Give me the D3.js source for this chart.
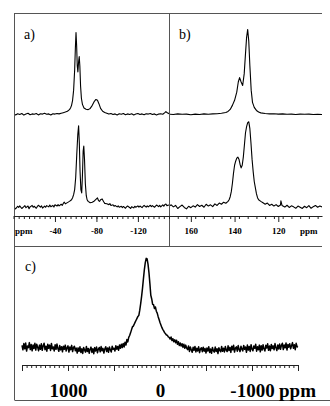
<!DOCTYPE html>
<html>
<head>
<meta charset="utf-8">
<script src="https://cdn.jsdelivr.net/npm/d3@7"></script>
<style>
  body { margin: 0; background: #fff; }
  svg { display: block; }
  text { font-family: "Liberation Serif", "Times New Roman", Times, serif; }
  .domain, .tick line { stroke: #222; }
</style>
</head>
<body>
<div class="container"></div>
<script>
// ---- data: [ppm, intensity] ----
var aTop = [[0,0.3],[-2,-0.2],[-4,0.4],[-6,0],[-8,0.5],[-10,-0.3],[-12,0.2],[-14,0.6],[-16,-0.1],[-18,0.3],
  [-20,0.1],[-22,0.5],[-24,-0.2],[-26,0.4],[-28,0.2],[-30,0.6],[-32,0.1],[-34,0.3],[-36,-0.2],[-38,0.4],
  [-40,0.2],[-42,0.5],[-44,0.3],[-46,0.6],[-48,0.9],[-50,1.2],[-52,1.6],[-54,2.4],[-55,3.2],[-56,4.5],
  [-57,7],[-58,12],[-59,22],[-59.7,33],[-60.3,40.4],[-60.9,34],[-61.5,24],[-62.1,21],[-62.8,26],[-63.4,28.6],
  [-64,24],[-64.7,14],[-65.5,8],[-66.5,5],[-68,3.2],[-70,2.6],[-72,2.4],[-74,3],[-76,4.5],[-78,6.5],
  [-79.5,7.4],[-81,7],[-82.5,5.2],[-84,3],[-86,1.6],[-88,1],[-90,0.6],[-92,0.2],[-94,0.5],[-96,0],
  [-98,0.3],[-100,-0.2],[-102,0.4],[-104,0.1],[-106,0.5],[-108,-0.1],[-110,0.3],[-112,0],[-114,0.4],[-116,-0.2],
  [-118,0.2],[-120,0.5],[-122,0],[-124,0.3],[-126,-0.1],[-128,0.4],[-130,0.2],[-132,0.5],[-134,0],[-136,0.3],
  [-138,-0.2],[-140,0.2],[-142,0.4],[-144,0.1],[-146,0.9],[-147,1.4],[-148,1],[-150,0.4]];

var aBottom = [[0,0.5],[-2,-0.5],[-4,0.8],[-5,0.2],[-6,1],[-8,-0.3],[-10,0.6],[-11,1.1],[-12,0.1],[-14,0.9],
  [-15,-0.4],[-16,0.5],[-18,1.2],[-19,0.3],[-20,0.8],[-22,-0.2],[-23,0.7],[-24,1.3],[-26,0.4],[-27,1],
  [-28,-0.1],[-30,0.9],[-31,0.3],[-32,1.1],[-34,0.5],[-35,1.4],[-36,0.6],[-38,1.2],[-39,0.4],[-40,1.5],
  [-42,0.9],[-43,1.6],[-44,1],[-46,1.8],[-47,1.2],[-48,2.2],[-49,2.8],[-50,2],[-52,2.6],[-54,3.2],
  [-56,4],[-57,5],[-58,6.5],[-59,9],[-60,15],[-61,26],[-62,36],[-62.8,40.4],[-63.5,32],[-64.2,18],
  [-65,9],[-65.8,7.4],[-66.5,16],[-67.2,28],[-67.8,30.5],[-68.5,24],[-69.3,12],[-70.2,6],[-71,4],[-72,3.2],
  [-74,2.5],[-76,2.8],[-78,3.4],[-80,4.4],[-81,4.9],[-82,3.6],[-83,3.2],[-84,4],[-85.5,4.4],[-87,3],
  [-88,2.2],[-90,2],[-92,1.6],[-93,2.1],[-94,1.2],[-96,1.5],[-97,0.8],[-98,1.2],[-100,0.5],[-101,1],
  [-102,0.3],[-104,0.8],[-105,0.1],[-106,0.7],[-108,-0.2],[-109,0.5],[-110,0.9],[-112,0.2],[-113,-0.3],[-114,0.6],
  [-116,0],[-117,0.8],[-118,0.3],[-120,1],[-121,0.4],[-122,0.9],[-124,0.1],[-125,0.7],[-126,1.2],[-128,0.4],
  [-129,1],[-130,0.5],[-132,1.3],[-133,0.6],[-134,1.1],[-136,0.3],[-137,0.9],[-138,1.4],[-140,0.6],[-141,1.2],
  [-142,0.5],[-144,1.5],[-145,0.8],[-146,1.6],[-147,1.9],[-148,1.1],[-150,1.4]];

var bTop = [[170,0.2],[168,0],[166,0.3],[164,0.1],[162,0.2],[160,-0.1],[158,0.2],[156,0],[154,0.3],[152,0.1],
  [150,0.3],[148,0.4],[146,0.6],[144,1],[143,1.5],[142,2.5],[141,4.5],[140,7],[139,11],[138.3,16],
  [137.7,18.2],[137,16],[136.3,14.3],[135.6,20],[135,30],[134.5,38],[134,41.9],[133.5,36],[133,24],[132.4,12],
  [131.8,6],[131,3.5],[130,2],[129,1.2],[128,0.8],[126,0.5],[124,0.3],[122,0.4],[120,0.2],[118,0.3],
  [116,0.1],[114,0.2],[112,0],[110,0.2],[108,0.1],[106,0.2],[104,0],[102,0.1],[100,0]];

var bBottom = [[170,0.8],[169,1.5],[168,0.5],[167,1.2],[166,-0.3],[165,0.6],[164,1.4],[163,0.2],[162,-0.5],[161,0.8],
  [160,0.1],[159,1],[158,0.4],[157,1.6],[156,0.7],[155,1.3],[154,0.3],[153,1.8],[152,0.9],[151,1.5],
  [150,0.6],[149,2],[148,1.2],[147,2.4],[146,1.8],[145,2.8],[144,2.3],[143,3.2],[142.5,4],[142,5.5],
  [141.5,8],[141,12],[140.5,17],[140,21],[139.5,23],[139,24.5],[138.5,25],[138,24],[137.5,21.5],[137,19.7],
  [136.5,21],[136,25],[135.5,31],[135,37],[134.5,40],[134,42],[133.5,42.4],[133,39],[132.5,32],[132,24],
  [131.5,18],[131,13],[130.5,10],[130,7],[129.5,5],[129,4],[128,3.2],[127,2.5],[126,1.8],[125,2.4],
  [124,1.2],[123,1.8],[122,0.9],[121,1.6],[120,0.7],[119,1.4],[118.8,3.5],[118.3,1.2],[117,0.4],[116,1.3],
  [115,0.2],[114,1],[113,0.5],[112,-0.2],[111,0.9],[110,0.3],[109,-0.3],[108,0.8],[107,0.1],[106,1.1],
  [105,-0.2],[104,0.6],[103,1.2],[102,0.3],[101,0.9],[100,0.5]];

// top trace is drawn shifted up by traceOffsets[0], bottom one by traceOffsets[1]
var traceOffsets = [50, 4];

// panel c: spectrum sampled every 10 ppm from 1500 down to -1500
var cPpmStart = 1500, cPpmStep = -10, cOffset = 12.6;
var cValues = [
  3.9,0.2,5.4,1.0,5.8,-0.9,3.4,2.0,6.2,0.4,4.6,-0.7,4.2,1.3,5.6,-0.1,4.9,2.4,-0.6,4.1,
  0.6,5.2,-0.3,3.6,5.7,0.3,3.2,-1.0,4.8,1.5,4.1,-0.4,5.5,1.0,2.6,-0.8,4.4,0.6,5.0,1.3,
  -1.1,3.7,0.1,2.8,-1.5,3.2,0.6,4.1,-0.9,1.9,3.5,-1.7,2.5,0.3,3.9,-1.3,2.1,3.1,-0.7,1.6,
  -2.6,1.8,-1.1,2.7,-2.1,1.0,-2.9,2.2,0.0,-1.8,3.0,-1.3,1.3,-2.7,0.6,2.4,-2.0,1.1,-3.1,2.0,
  -0.8,2.6,-2.3,0.7,2.1,-1.5,2.9,-0.7,1.4,-2.5,0.9,2.8,-1.3,1.7,-1.9,2.5,0.2,-1.7,3.1,0.6,
  1.5,-0.9,3.6,0.7,2.9,-0.2,4.3,1.5,4.8,2.0,5.5,2.6,6.6,4.2,8.8,6.8,10.6,12.2,14.4,16.9,
  19.4,20.1,21.7,23.4,25.0,26.6,28.2,29.1,33.5,39.0,45.0,52.0,60.0,67.5,73.5,77.0,76.5,72.0,65.0,56.0,
  46.0,42.9,38.4,38.0,34.8,36.2,32.6,31.0,28.0,25.6,23.1,21.0,19.0,17.4,16.1,14.6,13.6,12.6,12.4,11.0,
  10.6,9.2,10.9,7.9,9.5,7.0,8.6,6.1,8.2,4.8,7.0,3.7,5.9,3.4,5.3,2.2,4.8,1.4,4.1,1.6,
  0.3,3.4,-1.2,2.6,0.1,-1.9,2.3,-0.2,3.0,-1.6,1.4,-0.8,2.7,-2.2,0.9,1.9,-1.4,2.4,-1.0,1.2,
  -2.5,1.6,-0.9,2.8,-2.1,0.8,-2.8,2.2,-0.5,-1.8,2.5,-1.2,1.1,-3.0,1.8,-0.2,-1.5,3.0,-1.1,1.5,
  -1.6,2.9,0.0,-1.3,3.5,-0.5,2.2,-2.0,3.2,0.2,4.0,-1.7,1.7,2.6,-1.0,3.7,0.5,-1.4,3.1,0.8,
  -0.8,3.8,0.6,2.5,-1.9,4.2,-0.1,3.0,-1.2,4.5,0.7,-0.7,3.4,1.4,4.8,-1.0,2.7,0.2,4.1,-1.5,
  3.6,0.0,4.4,1.0,-0.9,4.0,1.7,5.2,-0.3,3.3,-0.6,4.7,1.2,3.5,0.2,5.4,2.0,-0.5,4.2,0.9,
  5.0,0.6,3.9,5.7,0.4,4.3,1.8,5.9,0.0,4.6,2.4,5.3,1.0,3.7,6.2,1.5,4.5,0.3,5.6,2.7,
  2.4];

var aTicks = [-40, -80, -120];
var bTicks = [160, 140, 120];
var cTicks = [1000, 0, -1000];
var panelLabels = ["a)", "b)", "c)"];

// ---- layout ----
const WIDTH = 330;
const HEIGHT = 406;
const FRAME_COLOR = "#555";
const SERIF = '"Liberation Serif", "Times New Roman", Times, serif';

var translate = function (x, y) {
  return "translate(" + x + "," + y + ")";
};

var svg = d3.select("body").append("svg")
  .attr("width", WIDTH)
  .attr("height", HEIGHT);

var xA = d3.scaleLinear().domain([0, -150]).range([13.5, 169]);
var xB = d3.scaleLinear().domain([170, 100]).range([169, 322]);
var xC = d3.scaleLinear().domain([1500, -1500]).range([22, 298]);
var yTop = d3.scaleLinear().domain([0, 100]).range([216, 13]);
var yC = d3.scaleLinear().domain([0, 100]).range([365, 246]);

// frame
var frame = svg.append("g").attr("stroke", FRAME_COLOR).attr("stroke-width", 1).attr("fill", "none");
frame.append("line").attr("x1", 14.5).attr("x2", 14.5).attr("y1", 13).attr("y2", 400);
frame.append("line").attr("x1", 14.5).attr("x2", 322).attr("y1", 13.5).attr("y2", 13.5);
frame.append("line").attr("x1", 169.5).attr("x2", 169.5).attr("y1", 13.5).attr("y2", 246);
frame.append("line").attr("x1", 14.5).attr("x2", 322).attr("y1", 246.5).attr("y2", 246.5);
frame.append("line").attr("x1", 14.5).attr("x2", 330).attr("y1", 400.5).attr("y2", 400.5);

// clip paths so traces stay inside their boxes
var defs = svg.append("defs");
defs.append("clipPath").attr("id", "clipA").append("rect")
  .attr("x", 15).attr("y", 14).attr("width", 154).attr("height", 202);
defs.append("clipPath").attr("id", "clipB").append("rect")
  .attr("x", 170).attr("y", 14).attr("width", 152).attr("height", 202);

var drawTrace = function (data, xScale, offset, clip) {
  var line = d3.line()
    .x(function (d) { return xScale(d[0]); })
    .y(function (d) { return yTop(d[1] + offset); });
  svg.append("path")
    .attr("clip-path", "url(#" + clip + ")")
    .attr("d", line(data))
    .attr("fill", "none")
    .attr("stroke", "#000")
    .attr("stroke-width", 1.1)
    .attr("stroke-linejoin", "round");
};

drawTrace(aTop, xA, traceOffsets[0], "clipA");
drawTrace(aBottom, xA, traceOffsets[1], "clipA");
drawTrace(bTop, xB, traceOffsets[0], "clipB");
drawTrace(bBottom, xB, traceOffsets[1], "clipB");

var cLine = d3.line()
  .x(function (d, i) { return xC(cPpmStart + i * cPpmStep); })
  .y(function (d) { return yC(d + cOffset); });
svg.append("path")
  .attr("d", cLine(cValues))
  .attr("fill", "none")
  .attr("stroke", "#000")
  .attr("stroke-width", 1.5)
  .attr("stroke-linejoin", "round");

// plain tick marks (no labels)
var tickAxis = function (scale, y, values, size) {
  var g = svg.append("g").attr("transform", translate(0, y));
  g.call(d3.axisBottom(scale).tickValues(values).tickSize(size).tickSizeOuter(0));
  g.selectAll(".tick text").remove();
  return g;
};

// labelled ticks
var labelAxis = function (scale, y, values, size, fontSize, pad) {
  var g = svg.append("g").attr("transform", translate(0, y));
  g.call(d3.axisBottom(scale).tickValues(values).tickSize(size).tickSizeOuter(0).tickPadding(pad)
    .tickFormat(function (d) { return d < 0 ? "-" + Math.abs(d) : d; }));
  g.select(".domain").remove();
  g.selectAll(".tick text")
    .attr("font-family", SERIF)
    .attr("font-weight", "bold")
    .attr("font-size", fontSize)
    .attr("fill", "#000");
  return g;
};

tickAxis(xA, 216, d3.range(0, -151, -5), 3).select(".domain").attr("stroke-width", 1.2);
labelAxis(xA, 216, aTicks, 6, 9, 5.5);
tickAxis(xB, 216, d3.range(170, 99, -4), 3).select(".domain").attr("stroke-width", 1.2);
labelAxis(xB, 216, bTicks, 6, 9, 5.5);

tickAxis(xC, 365, d3.range(1500, -1501, -50), 3).select(".domain").attr("stroke-width", 1.2);
tickAxis(xC, 365, [1500, 1000, 500, 0, -500, -1000, -1500], 6).select(".domain").remove();
labelAxis(xC, 365, cTicks, 6, 19, 12.5).selectAll(".tick line").remove();

// axis unit labels
var units = [[15, 234, 9], [300, 234, 9], [279, 397, 19]];
svg.selectAll(".unit").data(units).enter().append("text")
  .attr("class", "unit")
  .attr("x", function (d) { return d[0]; })
  .attr("y", function (d) { return d[1]; })
  .attr("font-family", SERIF)
  .attr("font-weight", "bold")
  .attr("font-size", function (d) { return d[2]; })
  .text("ppm");

// panel letters
var letterPos = [[24, 39], [179, 39], [25, 271]];
svg.selectAll(".panel-label").data(panelLabels).enter().append("text")
  .attr("class", "panel-label")
  .attr("x", function (d, i) { return letterPos[i][0]; })
  .attr("y", function (d, i) { return letterPos[i][1]; })
  .attr("font-family", SERIF)
  .attr("font-size", 14)
  .text(function (d) { return d; });
</script>
</body>
</html>
